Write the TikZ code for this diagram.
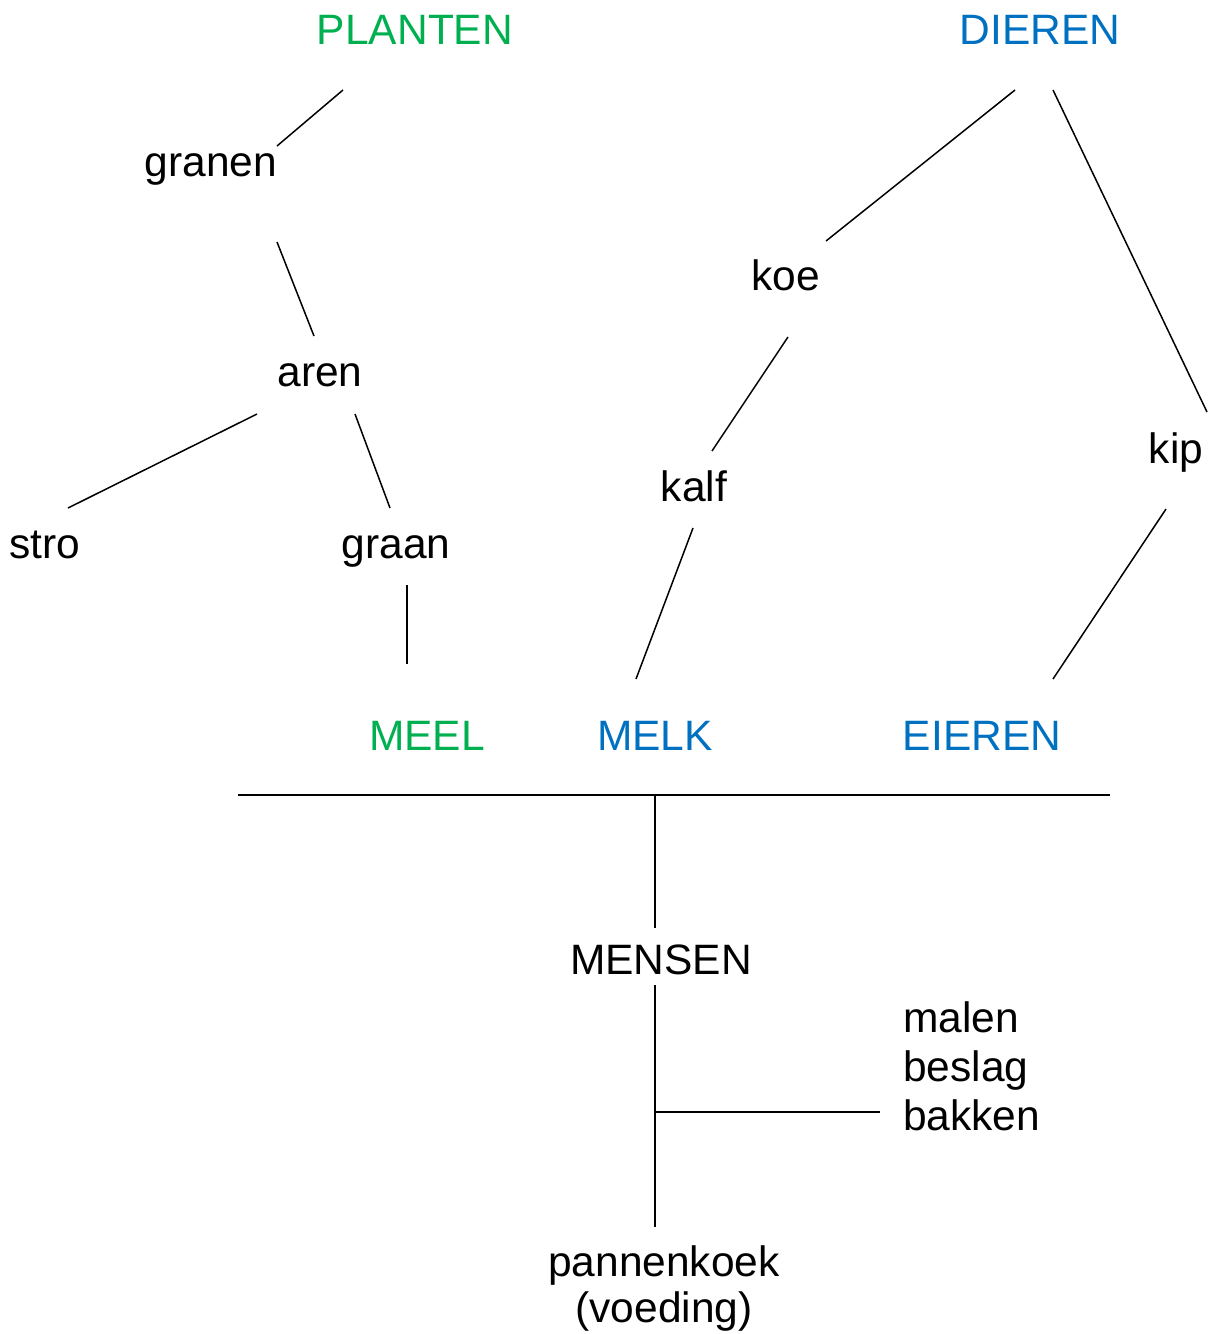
\documentclass[tikz,border=0pt]{standalone}
\usepackage{fontspec}
\setmainfont{Liberation Sans}
\definecolor{pgreen}{HTML}{00B050}
\definecolor{pblue}{HTML}{0070C0}
\begin{document}
\begin{tikzpicture}[x=1pt,y=-1pt,
  lbl/.style={inner sep=0pt,anchor=base,font=\fontsize{42.5}{49}\selectfont},
  lblw/.style={inner sep=0pt,anchor=base west,font=\fontsize{42.5}{49}\selectfont},
  ln/.style={line width=1.5pt,black}]
\useasboundingbox (0,0) rectangle (1216,1334);
% text nodes
\node[lbl,text=pgreen] (planten) at (415,44) {PLANTEN};
\node[lbl,text=pblue] (dieren) at (1040,44) {DIEREN};
\node[lbl] (granen) at (211,176) {granen};
\node[lbl] (aren) at (320,386) {aren};
\node[lbl] (stro) at (45,558) {stro};
\node[lbl] (graan) at (396,558) {graan};
\node[lbl] (koe) at (786,290) {koe};
\node[lbl] (kalf) at (694,501) {kalf};
\node[lbl] (kip) at (1176,463) {kip};
\node[lbl,text=pgreen] (meel) at (427,750) {MEEL};
\node[lbl,text=pblue] (melk) at (655,750) {MELK};
\node[lbl,text=pblue] (eieren) at (982,750) {EIEREN};
\node[lbl] (mensen) at (661,974) {MENSEN};
\node[lblw] (malen) at (903,1032) {malen};
\node[lblw] (beslag) at (903,1081) {beslag};
\node[lblw] (bakken) at (903,1130) {bakken};
\node[lbl] (pannenkoek) at (664,1276) {pannenkoek};
\node[lbl] (voeding) at (664,1322) {(voeding)};
% connector end points
\coordinate (a1) at (343,90);   \coordinate (a2) at (277,146);
\coordinate (b1) at (277,242);  \coordinate (b2) at (314,336);
\coordinate (c1) at (257,414);  \coordinate (c2) at (68,508);
\coordinate (d1) at (355,414);  \coordinate (d2) at (390,508);
\coordinate (e1) at (407,585);  \coordinate (e2) at (407,664);
\coordinate (f1) at (1015,90);  \coordinate (f2) at (826,241);
\coordinate (g1) at (788,337);  \coordinate (g2) at (712,451);
\coordinate (h1) at (693,528);  \coordinate (h2) at (636,679);
\coordinate (i1) at (1053,90);  \coordinate (i2) at (1207,412);
\coordinate (j1) at (1166,509); \coordinate (j2) at (1053,679);
\coordinate (barL) at (238,795); \coordinate (barR) at (1110,795);
\coordinate (barM) at (655,795); \coordinate (mTop) at (655,928);
\coordinate (mBot) at (655,985); \coordinate (pTop) at (655,1227);
\coordinate (brJ) at (655,1112); \coordinate (brE) at (880,1112);
% connectors
\draw[ln] (a1) -- (a2);
\draw[ln] (b1) -- (b2);
\draw[ln] (c1) -- (c2);
\draw[ln] (d1) -- (d2);
\draw[ln] (e1) -- (e2);
\draw[ln] (f1) -- (f2);
\draw[ln] (g1) -- (g2);
\draw[ln] (h1) -- (h2);
\draw[ln] (i1) -- (i2);
\draw[ln] (j1) -- (j2);
\draw[ln] (barL) -- (barR);
\draw[ln] (barM) -- (mTop);
\draw[ln] (mBot) -- (pTop);
\draw[ln] (brJ) -- (brE);
\end{tikzpicture}
\end{document}
